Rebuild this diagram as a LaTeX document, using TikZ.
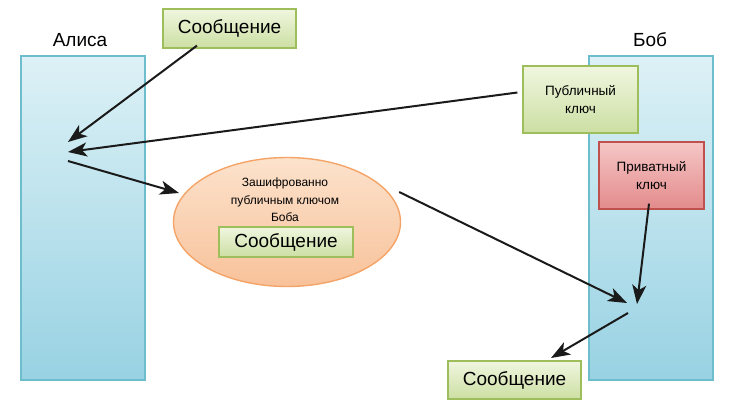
\documentclass[tikz,border=0pt]{standalone}
\usepackage{fontspec}
\setmainfont{Liberation Sans}
\usetikzlibrary{arrows.meta,shapes.geometric}
\definecolor{lblueT}{HTML}{DDF1F6}
\definecolor{lblueB}{HTML}{98D2E3}
\definecolor{lblueD}{HTML}{6DBDCD}
\definecolor{greenT}{HTML}{F0F6DF}
\definecolor{greenB}{HTML}{CCDFA3}
\definecolor{greenD}{HTML}{9EBE5C}
\definecolor{redT}{HTML}{F6C6C6}
\definecolor{redB}{HTML}{E38B8B}
\definecolor{redD}{HTML}{C0504D}
\definecolor{orT}{HTML}{FCE2CC}
\definecolor{orB}{HTML}{F8C29A}
\definecolor{orD}{HTML}{F5A468}
\definecolor{arr}{HTML}{1A1A1A}
\tikzset{
  lane/.style={draw=lblueD, line width=1.4pt, top color=lblueT, bottom color=lblueB, minimum width=124pt, minimum height=324pt, inner sep=0pt},
  greenbox/.style={draw=greenD, line width=1.2pt, top color=greenT, bottom color=greenB, inner sep=0pt, align=center},
  redbox/.style={draw=redD, line width=1.2pt, top color=redT, bottom color=redB, inner sep=0pt, align=center},
  oval/.style={ellipse, draw=orD, line width=1.4pt, top color=orT, bottom color=orB, minimum width=227pt, minimum height=129pt, inner sep=0pt},
  bigtxt/.style={font=\fontsize{19}{21}\selectfont},
  smalltxt/.style={font=\fontsize{13.5}{18}\selectfont},
  arrowline/.style={draw=arr, line width=2pt, -{Stealth[length=19pt,width=14pt,inset=5pt]}}
}
\begin{document}
\begin{tikzpicture}[x=1pt,y=-1pt]
\useasboundingbox[fill=white] (0,0) rectangle (731,418);
% lanes
\node[lane] (alice) at (83,218) {};
\node[lane] (bob) at (651,218) {};
\node[bigtxt] (alicelbl) at (80,40) {Алиса};
\node[bigtxt] (boblbl) at (650,40) {Боб};
% boxes
\node[greenbox, bigtxt, minimum width=133pt, minimum height=39pt] (msg1) at (229.5,28.5) {Сообщение};
\node[greenbox, smalltxt, minimum width=115pt, minimum height=67pt] (pub) at (580.5,99.5) {Публичный\\ключ};
\node[redbox, smalltxt, minimum width=105pt, minimum height=67pt] (priv) at (651.5,175.5) {Приватный\\ключ};
\node[oval] (enc) at (287,222) {};
\node[font=\fontsize{12}{17.5}\selectfont, align=center] (enctxt) at (285,200) {Зашифрованно\\публичным ключом\\Боба};
\node[greenbox, bigtxt, minimum width=134pt, minimum height=30pt] (msg2) at (286,242) {Сообщение};
\node[greenbox, bigtxt, minimum width=133pt, minimum height=38pt] (msg3) at (514.5,380) {Сообщение};
% arrow ends
\coordinate (a1) at (68,142);
\coordinate (a2) at (68,152);
\coordinate (a3s) at (68,161);
\coordinate (a3e) at (179,193);
\coordinate (b1) at (627,303);
\coordinate (b2) at (637,304);
\coordinate (b3s) at (628,313);
\coordinate (b3e) at (551,358);
% arrows
\draw[arrowline] ([xshift=-32.5pt,yshift=3pt]msg1.south) -- (a1);
\draw[arrowline] ([xshift=-5pt,yshift=7pt]pub.west) -- (a2);
\draw[arrowline] (a3s) -- (a3e);
\draw[arrowline] ([xshift=-2pt,yshift=30pt]enc.east) -- (b1);
\draw[arrowline] ([xshift=-2.5pt,yshift=6pt]priv.south) -- (b2);
\draw[arrowline] (b3s) -- (b3e);
\end{tikzpicture}
\end{document}
